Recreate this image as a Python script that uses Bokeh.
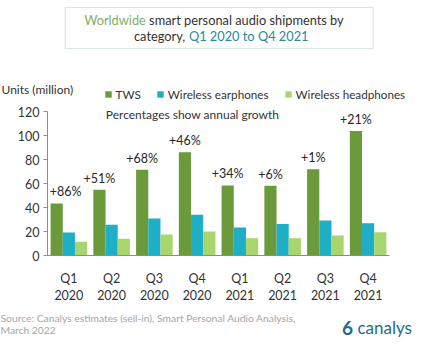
from bokeh.plotting import figure
from bokeh.models import (ColumnDataSource, Range1d, Label, LabelSet, Legend, LegendItem,
                          BoxAnnotation, FixedTicker)
from bokeh.core.properties import value
from bokeh.transform import dodge
from bokeh.embed import file_html
from bokeh.resources import INLINE

quarters = ["Q1\n2020", "Q2\n2020", "Q3\n2020", "Q4\n2020",
            "Q1\n2021", "Q2\n2021", "Q3\n2021", "Q4\n2021"]
tws = [43.6, 55.0, 71.7, 86.3, 58.6, 58.3, 72.2, 104.0]
earphones = [19.4, 25.8, 31.0, 34.2, 23.6, 26.4, 29.4, 27.2]
headphones = [11.7, 14.2, 17.7, 20.2, 14.7, 14.7, 16.9, 19.7]
growth = ["+86%", "+51%", "+68%", "+46%", "+34%", "+6%", "+1%", "+21%"]
y_ticks = [0, 20, 40, 60, 80, 100, 120]

FONT = "Lato"
C_TWS = "#6b9a3b"
C_EAR = "#1eaec6"
C_HEAD = "#a8d56d"
TXT = "#333333"

W, H = 414, 341
PX_X = 42.75          # pixels per category
PX_Y = 1.2            # pixels per unit
X0 = 47               # left edge of category area (px)
Y0 = 255.3            # zero line (px from top)

idx = list(range(len(quarters)))
# first growth label is nudged right, clear of the value axis
label_nudge = [9 if i == 0 else 0 for i in idx]
src = ColumnDataSource(dict(i=idx, q=quarters, tws=tws, ear=earphones, head=headphones,
                            g=growth, nudge=label_nudge))

x_range = Range1d(-X0 / PX_X - 0.5, (W - X0) / PX_X - 0.5)
y_range = Range1d(-(H - Y0) / PX_Y, Y0 / PX_Y)

p = figure(width=W, height=H, x_range=x_range, y_range=y_range,
           output_backend="svg", toolbar_location=None,
           min_border=0, min_border_left=0, min_border_right=0,
           min_border_top=0, min_border_bottom=0)
p.outline_line_color = None
p.xgrid.grid_line_color = None
p.ygrid.grid_line_color = None
p.background_fill_color = "white"
p.border_fill_color = "white"

w = 0.285
r1 = p.vbar(x=dodge("i", -w), top="tws", width=w, source=src,
            fill_color=C_TWS, line_color=None)
r2 = p.vbar(x=dodge("i", 0), top="ear", width=w, source=src,
            fill_color=C_EAR, line_color=None)
r3 = p.vbar(x=dodge("i", w), top="head", width=w, source=src,
            fill_color=C_HEAD, line_color=None)

labels = LabelSet(x=dodge("i", -w), y="tws", text="g", source=src,
                  x_offset="nudge", y_offset=4, text_align="center", text_baseline="bottom",
                  text_font=value(FONT), text_font_size=value("12.5px"),
                  text_color=value("#262626"))
p.add_layout(labels)

# axes at fixed locations
yax = p.yaxis[0]
yax.fixed_location = -0.5
yax.bounds = (0, 120)
yax.ticker = FixedTicker(ticks=y_ticks)
yax.axis_line_color = "#8c8c8c"
yax.major_tick_line_color = "#8c8c8c"
yax.major_tick_out = 4
yax.major_tick_in = 0
yax.minor_tick_line_color = None
yax.major_label_standoff = 4
yax.major_label_text_font = FONT
yax.major_label_text_font_size = "12.5px"
yax.major_label_text_color = TXT

xax = p.xaxis[0]
xax.fixed_location = 0
xax.bounds = (-0.5, len(quarters) - 0.5)
xax.ticker = FixedTicker(ticks=idx)
xax.major_label_overrides = {i: q for i, q in zip(idx, quarters)}
xax.axis_line_color = "#8c8c8c"
xax.major_tick_line_color = None
xax.minor_tick_line_color = None
xax.major_label_standoff = 9
xax.major_label_text_font = FONT
xax.major_label_text_font_size = "12.5px"
xax.major_label_text_color = TXT
xax.major_label_text_line_height = 1.15

# legend
legend = Legend(items=[LegendItem(label="TWS", renderers=[r1]),
                       LegendItem(label="Wireless earphones", renderers=[r2]),
                       LegendItem(label="Wireless headphones", renderers=[r3])],
                orientation="horizontal", location=(103.5, 240),
                glyph_width=8, glyph_height=8, label_height=12, label_standoff=4,
                spacing=15, padding=0, margin=0,
                border_line_color=None, background_fill_alpha=0,
                label_text_font=FONT, label_text_font_size="11.7px",
                label_text_color=TXT)
p.add_layout(legend, "center")


def lab(text, x, y, size="12px", color=TXT, align="left", base="middle", style="normal"):
    # x, y in pixels from the top-left corner of the canvas
    p.add_layout(Label(x=x, y=H - y, x_units="screen", y_units="screen", text=text,
                       text_font=FONT, text_font_size=size, text_color=color,
                       text_align=align, text_baseline=base, text_font_style=style))


# title box
p.add_layout(BoxAnnotation(left=64.7, right=372.7, top=H - 7, bottom=H - 48,
                           left_units="screen", right_units="screen",
                           top_units="screen", bottom_units="screen",
                           fill_color="white", fill_alpha=1,
                           line_color="#86a9ad", line_width=1.2))
lab("Worldwide", 145.3, 19.7, size="12.8px", color="#86ad64", align="right")
lab("smart personal audio shipments by", 148.6, 19.7, size="12.8px")
lab("category,", 184.7, 35.3, size="12.8px", align="right")
lab("Q1 2020 to Q4 2021", 188.4, 35.3, size="12.8px", color="#2b8a9b")

lab("Units (million)", 1, 89)
lab("Percentages show annual growth", 105.3, 113.7)

lab("Source: Canalys estimates (sell-in), Smart Personal Audio Analysis,", 0, 317,
    size="10.3px", color="#a6a6a6")
lab("March 2022", 0, 329.7, size="10.3px", color="#a6a6a6")

lab("6", 347, 327, size="19px", color="#1d6d8c", align="center", style="bold")
lab("canalys", 357, 327, size="17px", color="#1d6d8c")

open("out.html", "w").write(file_html(p, INLINE))
